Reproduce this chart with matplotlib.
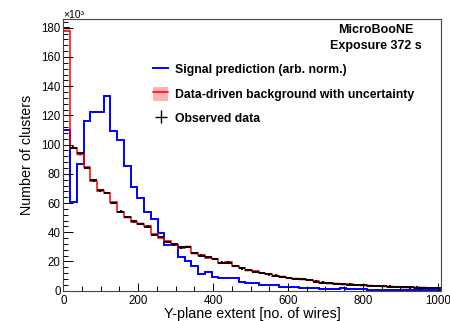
import numpy as np
import matplotlib
matplotlib.use("Agg")
import matplotlib.pyplot as plt
from matplotlib.lines import Line2D
from matplotlib.patches import Patch
from matplotlib.ticker import MultipleLocator

plt.rcParams['font.family'] = ['Liberation Sans', 'DejaVu Sans']

# 56 bins of 18 wires, counts in units of 10^3 clusters
bin_width = 18
n_bins = 56

observed = [180, 98, 94, 84, 75.5, 68.6, 66.8, 60, 54.2, 50.6,
            47.4, 45.7, 43.9, 38.2, 36.7, 33.5, 31.7, 29.6, 29.8, 25.8,
            24.0, 22.9, 21.5, 19.2, 19.2, 17.1, 15.3, 14.2, 13.0, 12.3,
            11.2, 10.3, 9.6, 8.9, 8.2, 7.8, 7.5, 6.2, 5.5, 5.2,
            4.8, 4.5, 4.2, 4.0, 3.7, 3.4, 3.2, 3.0, 2.8, 2.6,
            2.4, 2.2, 2.1, 2.0, 1.9, 1.8]

background = [178, 97.6, 93.4, 84.4, 75.0, 68.2, 67.0, 60.4, 54.0, 50.2,
              47.0, 45.9, 44.3, 38.6, 36.3, 33.9, 31.4, 29.3, 30.1, 25.5,
              24.2, 22.7, 21.8, 19.0, 19.4, 16.9, 15.5, 14.0, 13.2, 12.1,
              11.4, 10.2, 9.7, 8.8, 8.3, 7.7, 7.4, 6.3, 5.6, 5.1,
              4.9, 4.4, 4.3, 3.9, 3.7, 3.5, 3.1, 3.0, 2.8, 2.6,
              2.4, 2.3, 2.1, 2.0, 1.9, 1.8]
background_err = 0.9

signal = [110, 60.4, 87, 116.5, 122, 122, 133, 109.5, 103, 85.5,
          71, 63.5, 54, 49, 39.5, 31, 31, 23.3, 20, 17,
          11.6, 13, 9.3, 8.5, 9.0, 8.8, 6.2, 5.1, 5.0, 3.9,
          3.9, 3.8, 2.3, 2.3, 2.2, 1.8, 1.8, 1.6, 1.3, 1.2,
          1.3, 1.9, 1.0, 0.9, 0.9, 0.8, 0.7, 0.7, 0.6, 0.6,
          0.5, 0.5, 0.4, 0.4, 0.4, 0.3]

observed_err = 0.8

edges = np.arange(n_bins + 1) * bin_width
centers = edges[:-1] + bin_width / 2
bg = np.array(background)

fig = plt.figure(figsize=(4.5, 3.21), dpi=100)
ax = fig.add_axes([63.3 / 450, 30.3 / 321, 377.4 / 450, 271.7 / 321])

ax.fill_between(edges, np.append(bg - background_err, bg[-1] - background_err),
                np.append(bg + background_err, bg[-1] + background_err),
                step='post', color='red', alpha=0.3, lw=0)
ax.stairs(signal, edges, color='blue', lw=1.4)
ax.stairs(background, edges, color='red', lw=1.1, baseline=None)
ax.errorbar(centers, observed, xerr=bin_width / 2, yerr=observed_err,
            fmt='none', ecolor='black', elinewidth=1.3, capsize=0)

ax.set_xlim(0, 1008)
ax.set_ylim(0, 186)
ax.xaxis.set_major_locator(MultipleLocator(200))
ax.xaxis.set_minor_locator(MultipleLocator(50))
ax.yaxis.set_major_locator(MultipleLocator(20))
ax.yaxis.set_minor_locator(MultipleLocator(4))
ax.tick_params(axis='both', which='both', direction='in', width=0.7,
               labelsize=8.3, top=False, right=False)
ax.tick_params(axis='x', which='major', length=6, pad=3)
ax.tick_params(axis='x', which='minor', length=3.4)
ax.tick_params(axis='y', which='major', length=7.5, pad=2)
ax.tick_params(axis='y', which='minor', length=3.6)
for sp in ax.spines.values():
    sp.set_linewidth(0.8)
    sp.set_color('#444444')

ax.set_xlabel("Y-plane extent [no. of wires]", fontsize=10.3, labelpad=0)
ax.set_ylabel("Number of clusters", fontsize=10.3, labelpad=5)

fig.text(63 / 450, 1 - 15 / 321, "\u00d710\u00b3", fontsize=7.5, va='center', ha='left')

ax.text(0.829, 0.96, "MicroBooNE", transform=ax.transAxes, ha='center', va='center',
        fontsize=9, fontweight='bold')
ax.text(0.829, 0.90, "Exposure 372 s", transform=ax.transAxes, ha='center', va='center',
        fontsize=9, fontweight='bold')

h_sig = Line2D([], [], color='blue', lw=1.4)
h_bg = (Patch(facecolor='red', alpha=0.3, lw=0), Line2D([], [], color='red', lw=1.1))
h_obs = ax.errorbar([], [], xerr=1, yerr=1, fmt='none', ecolor='black', elinewidth=1.0)
leg = ax.legend([h_sig, h_bg, h_obs],
                ["Signal prediction (arb. norm.)",
                 "Data-driven background with uncertainty",
                 "Observed data"],
                loc='upper left', bbox_to_anchor=(153 / 450, 1 - 62 / 321),
                bbox_transform=fig.transFigure, frameon=False,
                prop={'size': 8.8, 'weight': 'bold'}, handlelength=1.25,
                handleheight=1.4, handletextpad=0.55, labelspacing=0.85,
                borderpad=0, borderaxespad=0)

fig.savefig("out.png", dpi=100)
